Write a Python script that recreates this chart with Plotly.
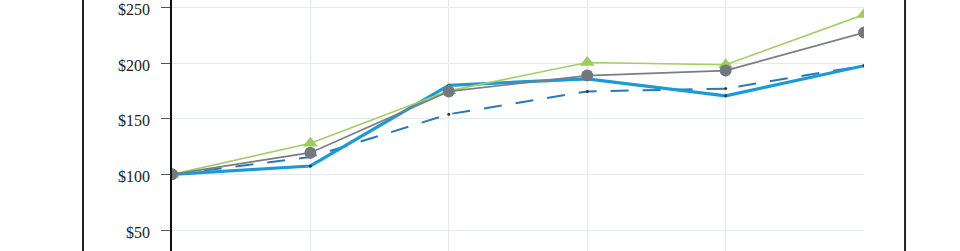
import plotly.graph_objects as go

periods = [0, 1, 2, 3, 4, 5]
series_green = [100, 128, 175, 200.5, 198.5, 243.5]
series_gray = [100, 119.5, 174.5, 188.7, 193.2, 227.3]
series_blue = [100, 107.5, 180, 185.8, 170.5, 197.6]
series_dash = [100, 115.5, 154, 174.5, 177, 197.6]
y_ticks = [50, 100, 150, 200, 250]
y_tick_labels = ["$50", "$100", "$150", "$200", "$250"]

fig = go.Figure()
fig.add_trace(go.Scatter(x=periods, y=series_dash, mode="lines+markers",
                         line=dict(color="#2b78b8", width=2, dash="18px,14px"),
                         marker=dict(size=3, color="#333333")))
fig.add_trace(go.Scatter(x=periods, y=series_blue, mode="lines+markers",
                         line=dict(color="#1b9ad8", width=3.2),
                         marker=dict(size=3, color="#333333")))
fig.add_trace(go.Scatter(x=periods, y=series_green, mode="lines+markers",
                         line=dict(color="#a2cf63", width=1.6),
                         marker=dict(symbol="triangle-up", size=13, color="#9dcc5c")))
fig.add_trace(go.Scatter(x=periods, y=series_gray, mode="lines+markers",
                         line=dict(color="#7a7e83", width=1.6),
                         marker=dict(symbol="circle", size=12, color="#737880")))

fig.update_layout(
    width=960, height=251,
    margin=dict(l=172, r=96, t=0, b=0, autoexpand=False),
    paper_bgcolor="white", plot_bgcolor="white",
    showlegend=False,
    font=dict(family="Liberation Serif, Times New Roman, serif", color="#222222"),
    shapes=[
        dict(type="line", xref="paper", yref="paper", x0=-0.1286, x1=-0.1286, y0=0, y1=1,
             line=dict(color="#222222", width=2)),
        dict(type="line", xref="paper", yref="paper", x0=1.0593, x1=1.0593, y0=0, y1=1,
             line=dict(color="#222222", width=2)),
    ],
)
fig.update_xaxes(range=[0, 5], showgrid=True, gridcolor="#e4e9ef", gridwidth=1,
                 showticklabels=False, zeroline=False, showline=False, ticks="",
                 automargin=False)
fig.update_yaxes(range=[31.15, 256.6], tickvals=y_ticks, ticktext=y_tick_labels,
                 showgrid=True, gridcolor="#e4e9ef", gridwidth=1, zeroline=False,
                 showline=True, linecolor="#111111", linewidth=1.5,
                 ticks="outside", ticklen=9, tickcolor="#555555", tickwidth=1,
                 tickfont=dict(size=16, family="Liberation Serif, serif", color="#222222"),
                 ticklabelstandoff=8, ticklabelshift=2, ticklabeloverflow="allow",
                 automargin=False)

fig.write_html("out.html")
